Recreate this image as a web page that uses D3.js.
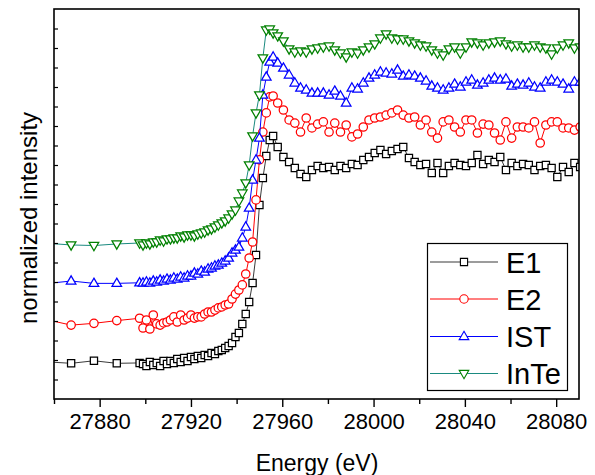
<!DOCTYPE html>
<html><head><meta charset="utf-8">
<script src="https://cdn.jsdelivr.net/npm/d3@7"></script>
<style>html,body{margin:0;padding:0;background:#fff;} svg{display:block;font-family:"Liberation Sans",Arial,sans-serif;}</style>
</head><body>
<svg id="c" width="595" height="475"></svg>
<script>
// Energy grid (eV)
const energy = [27857.5, 27867.5, 27877.5, 27887.5, 27897.5,
27899, 27900.5, 27902, 27903.5, 27905, 27906.5, 27908, 27909.5, 27911, 27912.5, 27914, 27915.5, 27917, 27918.5, 27920, 27921.5, 27923, 27924.5, 27926, 27927.5, 27929, 27930.5, 27932, 27933.5, 27935, 27936.5, 27938, 27939.5, 27941, 27942.5, 27944, 27945.5, 27947, 27948.5, 27950, 27951.5, 27953, 27954.5, 27956,
27958, 27960.5, 27963, 27965.5, 27968, 27970.5, 27973, 27975.5, 27978, 27980.5, 27983, 27985.5, 27988, 27990.5, 27993, 27995.5, 27998, 28000.5, 28003, 28005.5, 28008, 28010.5, 28013, 28015.5, 28018, 28020.5, 28023, 28025.5, 28028, 28030.5, 28033, 28035.5, 28038, 28040.5, 28043, 28045.5, 28048, 28050.5, 28053, 28055.5, 28058, 28060.5, 28063, 28065.5, 28068, 28070.5, 28073, 28075.5, 28078, 28080.5, 28083, 28085.5, 28088, 28090.5];

// Normalized intensity (offset for clarity)
const E1 = [0.190, 0.183, 0.196, 0.183, 0.185,
0.179,0.169,0.190,0.174,0.185,0.169,0.195,0.179,0.195,0.185,0.205,0.190,0.210,0.195,0.215,0.205,0.221,0.210,0.226,0.221,0.236,0.231,0.246,0.251,0.262,0.272,0.287,0.318,0.338,0.385,0.436,0.497,0.595,0.738,0.995,1.133,1.246,1.328,1.349,
1.292,1.241,1.215,1.185,1.154,1.138,1.174,1.195,1.185,1.190,1.174,1.195,1.185,1.205,1.200,1.226,1.241,1.262,1.277,1.256,1.272,1.282,1.292,1.236,1.215,1.200,1.205,1.159,1.210,1.159,1.195,1.210,1.200,1.195,1.210,1.251,1.205,1.226,1.215,1.241,1.174,1.210,1.195,1.205,1.200,1.174,1.195,1.200,1.185,1.138,1.190,1.164,1.210,1.190];

const E2 = [0.405, 0.379, 0.388, 0.402, 0.414,
0.364,0.405,0.359,0.431,0.385,0.379,0.390,0.395,0.405,0.421,0.395,0.431,0.405,0.415,0.431,0.415,0.421,0.421,0.436,0.446,0.446,0.456,0.467,0.472,0.482,0.487,0.513,0.538,0.559,0.585,0.641,0.723,0.805,1.021,1.226,1.369,1.467,1.549,1.554,
1.518,1.482,1.431,1.415,1.369,1.441,1.390,1.410,1.421,1.369,1.415,1.369,1.405,1.344,1.359,1.395,1.431,1.441,1.446,1.456,1.467,1.482,1.456,1.441,1.446,1.405,1.431,1.369,1.338,1.421,1.431,1.395,1.369,1.431,1.431,1.364,1.410,1.405,1.364,1.328,1.421,1.338,1.395,1.395,1.390,1.421,1.313,1.405,1.421,1.421,1.390,1.390,1.379,1.395];

const IST = [0.593, 0.605, 0.593, 0.593, 0.596,
0.595,0.600,0.595,0.605,0.600,0.610,0.605,0.615,0.610,0.621,0.615,0.626,0.621,0.631,0.631,0.646,0.641,0.656,0.651,0.667,0.672,0.682,0.687,0.697,0.708,0.723,0.749,0.764,0.779,0.826,0.882,0.979,1.123,1.226,1.338,1.559,1.651,1.728,1.754,
1.723,1.697,1.662,1.621,1.595,1.585,1.569,1.569,1.569,1.559,1.579,1.554,1.518,1.595,1.590,1.621,1.646,1.662,1.677,1.672,1.667,1.687,1.656,1.662,1.656,1.646,1.631,1.605,1.595,1.585,1.595,1.615,1.600,1.626,1.636,1.610,1.621,1.636,1.646,1.636,1.641,1.605,1.615,1.610,1.621,1.600,1.595,1.626,1.636,1.626,1.615,1.590,1.626,1.626];

const InTe = [0.798, 0.790, 0.787, 0.795, 0.800,
0.790,0.800,0.795,0.805,0.805,0.815,0.810,0.821,0.821,0.826,0.826,0.836,0.831,0.841,0.841,0.836,0.846,0.851,0.856,0.867,0.872,0.882,0.892,0.903,0.913,0.928,0.949,0.969,1.015,1.056,1.108,1.200,1.349,1.467,1.559,1.749,1.892,1.897,1.877,
1.862,1.836,1.795,1.779,1.785,1.779,1.795,1.800,1.805,1.810,1.790,1.774,1.754,1.779,1.774,1.790,1.805,1.821,1.851,1.872,1.851,1.846,1.846,1.836,1.826,1.815,1.810,1.790,1.774,1.764,1.795,1.805,1.774,1.805,1.831,1.826,1.815,1.826,1.831,1.836,1.821,1.810,1.815,1.805,1.805,1.815,1.805,1.800,1.769,1.800,1.815,1.826,1.800,1.805];

const seriesNames = ["E1", "E2", "IST", "InTe"];
const xTickValues = [27880, 27920, 27960, 28000, 28040, 28080];
const xMinorTicks = [27860, 27900, 27940, 27980, 28020, 28060];

const styles = {
  E1:   {line: "#3a3a3a", mark: "#000000", shape: "square"},
  E2:   {line: "#ff0000", mark: "#ff0000", shape: "circle"},
  IST:  {line: "#0000ff", mark: "#0000ff", shape: "up"},
  InTe: {line: "#1a8a80", mark: "#008000", shape: "down"}
};
const dataMap = {E1, E2, IST, InTe};

const svg = d3.select("#c");
const L = 54, T = 9, R = 579, B = 399;
const x = d3.scaleLinear().domain([27860, 28090]).range([L, R]);
const y = d3.scaleLinear().domain([0, 2]).range([B, T]);

svg.append("defs").append("clipPath").attr("id", "clip")
  .append("rect").attr("x", L).attr("y", T).attr("width", R - L).attr("height", B - T);

function symPath(shape) {
  if (shape === "square") return "M-3.6,-3.6H3.6V3.6H-3.6Z";
  if (shape === "circle") return "M4.2,0A4.2,4.2 0 1,1 -4.2,0A4.2,4.2 0 1,1 4.2,0Z";
  if (shape === "up") return "M0,-5.2L4.8,3.1L-4.8,3.1Z";
  return "M0,5.2L4.8,-3.1L-4.8,-3.1Z";
}

const plot = svg.append("g").attr("clip-path", "url(#clip)");
seriesNames.forEach(name => {
  const vals = dataMap[name];
  const pts = d3.zip(energy, vals);
  if (vals.length !== energy.length) console.warn(name, vals.length);
  const st = styles[name];
  plot.append("path")
    .attr("d", d3.line().x(d => x(d[0])).y(d => y(d[1]))(pts))
    .attr("fill", "none").attr("stroke", st.line).attr("stroke-width", 1);
  plot.append("g").selectAll("path").data(pts).join("path")
    .attr("transform", d => `translate(${x(d[0])},${y(d[1])})`)
    .attr("d", symPath(st.shape))
    .attr("fill", "#fff").attr("stroke", st.mark).attr("stroke-width", 1.25);
});

// frame
svg.append("rect").attr("x", L).attr("y", T).attr("width", R - L).attr("height", B - T)
  .attr("fill", "none").attr("stroke", "#000").attr("stroke-width", 1.6);

// x axis
const xAxis = d3.axisBottom(x).tickValues(xTickValues).tickSize(8).tickPadding(6).tickFormat(d3.format("d"));
const gx = svg.append("g").attr("transform", `translate(0,${B})`).call(xAxis);
gx.select(".domain").remove();
gx.selectAll("line").attr("stroke", "#000").attr("stroke-width", 1.4);
gx.selectAll("text").attr("font-size", 22).attr("fill", "#000").attr("font-family", "Liberation Sans, Arial, sans-serif");
const gxm = svg.append("g").attr("transform", `translate(0,${B})`)
  .call(d3.axisBottom(x).tickValues(xMinorTicks).tickSize(5).tickFormat(""));
gxm.select(".domain").remove();
gxm.selectAll("line").attr("stroke", "#000").attr("stroke-width", 1.4);

// y axis (inward ticks, no labels)
const gy = svg.append("g").attr("transform", `translate(${L},0)`)
  .call(d3.axisRight(y).tickValues(d3.range(0.1, 2.0, 0.1)).tickSize(4).tickFormat(""));
gy.select(".domain").remove();
gy.selectAll("line").attr("stroke", "#000").attr("stroke-width", 1.2);

// titles
svg.append("text").attr("x", 317).attr("y", 471).attr("text-anchor", "middle")
  .attr("font-size", 23).text("Energy (eV)");
svg.append("text").attr("transform", "translate(37,218) rotate(-90)").attr("text-anchor", "middle")
  .attr("font-size", 24).text("normalized intensity");

// legend
const lg = svg.append("g");
lg.append("rect").attr("x", 427.5).attr("y", 243.5).attr("width", 140).attr("height", 147)
  .attr("fill", "#fff").attr("stroke", "#000").attr("stroke-width", 1.2);
const legY = [262, 299, 336.5, 373.5];
seriesNames.forEach((name, i) => {
  const st = styles[name];
  lg.append("line").attr("x1", 430).attr("x2", 498).attr("y1", legY[i]).attr("y2", legY[i])
    .attr("stroke", st.line).attr("stroke-width", 1.2);
  lg.append("path").attr("transform", `translate(464,${legY[i]})`).attr("d", symPath(st.shape))
    .attr("fill", "#fff").attr("stroke", st.mark).attr("stroke-width", 1.1);
  lg.append("text").attr("x", 506).attr("y", legY[i] + 10.5).attr("font-size", 29).text(name);
});
</script>
</body></html>
